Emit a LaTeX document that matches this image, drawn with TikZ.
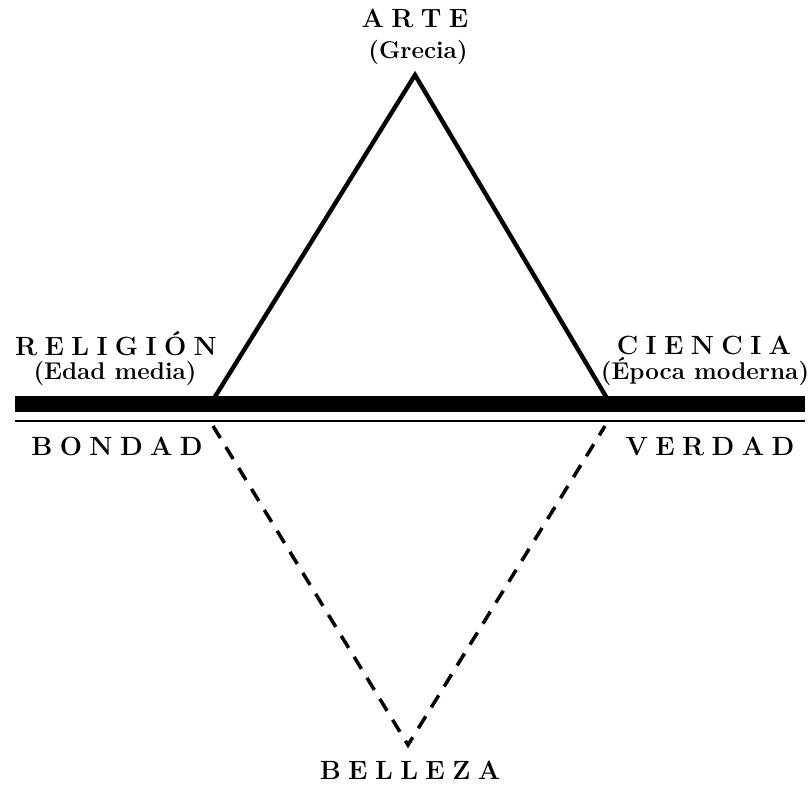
\documentclass[tikz,border=0pt]{standalone}
\usepackage{fontspec}
\makeatletter
\newcommand{\spaced}[2]{\def\sp@first{1}\@tfor\sp@c:=#2\do{\ifx\sp@first\empty\hskip#1\fi\def\sp@first{}\sp@c}}
\makeatother
\begin{document}
\begin{tikzpicture}[x=0.02cm,y=-0.02cm,every node/.style={inner sep=0pt,outer sep=0pt,anchor=base}]
  \tikzset{caps/.style={font=\fontsize{15}{17}\selectfont\bfseries},
    sub/.style={font=\fontsize{13.8}{15}\selectfont\bfseries},
    side/.style={line width=2.5pt,line join=miter},
    dashside/.style={line width=2pt,dash pattern=on 8pt off 6pt}}
  \useasboundingbox (0,0) rectangle (811,784);
  \coordinate (A) at (415,75);
  \coordinate (R) at (213,400);
  \coordinate (C) at (608,400);
  \coordinate (Bl) at (213,426);
  \coordinate (Vr) at (605,426);
  \coordinate (Z) at (408,745);
  \coordinate (L0) at (15,404);
  \coordinate (L1) at (805,404);
  \coordinate (T0) at (15,421);
  \coordinate (T1) at (805,421);
  \draw[side] (R)--(A)--(C);
  \draw[line width=9.5pt] (L0)--(L1);
  \draw[line width=1.7pt] (T0)--(T1);
  \draw[dashside] (Bl)--(Z)--(Vr);
  \node[caps] (arte) at (415,28) {\spaced{.28em}{ARTE}};
  \node[sub] (grecia) at (418,59) {(Grecia)};
  \node[caps] (religion) at (116,355) {\spaced{.28em}{RELIGIÓN}};
  \node[sub] (edad) at (115,379) {(Edad media)};
  \node[caps] (ciencia) at (704,354) {\spaced{.28em}{CIENCIA}};
  \node[sub] (epoca) at (705,379) {(Época moderna)};
  \node[caps] (bondad) at (117,455) {\spaced{.28em}{BONDAD}};
  \node[caps] (verdad) at (710,455) {\spaced{.28em}{VERDAD}};
  \node[caps] (belleza) at (410,779) {\spaced{.28em}{BELLEZA}};
\end{tikzpicture}
\end{document}
